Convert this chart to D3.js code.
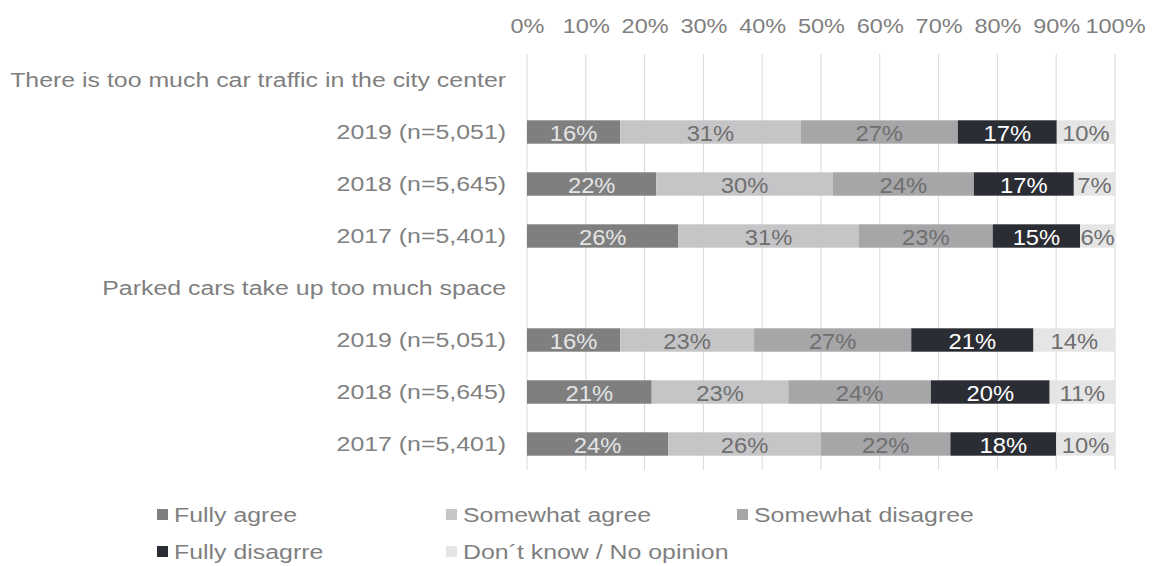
<!DOCTYPE html>
<html>
<head>
<meta charset="utf-8">
<script src="https://cdn.jsdelivr.net/npm/d3@7"></script>
<style>
	body { margin: 0; background: #fff; }
	svg { display: block; font-family: 'Liberation Sans', Arial, sans-serif; }
</style>
</head>
<body>
<svg id="chart" width="1154" height="566"></svg>
<script>
const questions = ['There is too much car traffic in the city center', 'Parked cars take up too much space'];
const years = ['2019 (n=5,051)', '2018 (n=5,645)', '2017 (n=5,401)'];
const responses = ['Fully agree', 'Somewhat agree', 'Somewhat disagree', 'Fully disagrre', 'Don\u00b4t know / No opinion'];

// one value per year row, question 1 rows first, then question 2
const fullyAgree = [16, 22, 26, 16, 21, 24];
const somewhatAgree = [31, 30, 31, 23, 23, 26];
const somewhatDisagree = [27, 24, 23, 27, 24, 22];
const fullyDisagree = [17, 17, 15, 21, 20, 18];
const dontKnow = [10, 7, 6, 14, 11, 10];

const tickValues = [0, 0.1, 0.2, 0.3, 0.4, 0.5, 0.6, 0.7, 0.8, 0.9, 1];
const tickLabels = ['0%', '10%', '20%', '30%', '40%', '50%', '60%', '70%', '80%', '90%', '100%'];

const colors = ['#7f7f80', '#c5c5c7', '#a6a6a8', '#2a2d33', '#e5e5e5'];
const labelColors = ['#e4e4e4', '#6f6f6f', '#6f6f6f', '#ffffff', '#6f6f6f'];

// the source text is drawn a bit wider than Arial
const wideText = 1.185;
const wideTick = 1.12;
const wideLabel = 1.08;

// build row list: question header, then its year rows
const rows = [];
let k = 0;
questions.forEach((q) => {
	rows.push({ label: q, header: true });
	years.forEach((y) => {
		rows.push({
			label: y,
			header: false,
			'Fully agree': fullyAgree[k],
			'Somewhat agree': somewhatAgree[k],
			'Somewhat disagree': somewhatDisagree[k],
			'Fully disagrre': fullyDisagree[k],
			'Don\u00b4t know / No opinion': dontKnow[k]
		});
		k += 1;
	});
});

const svg = d3.select('#chart');
const x = d3.scaleLinear().domain([0, 1]).range([527, 1115]);
const y = d3.scaleBand().domain(d3.range(rows.length)).range([54, 470]).paddingInner(0.55).paddingOuter(0.275);

// gridlines
svg.append('g')
	.selectAll('line')
	.data(tickValues)
	.join('line')
	.attr('x1', (d) => x(d))
	.attr('x2', (d) => x(d))
	.attr('y1', 54)
	.attr('y2', 470)
	.attr('stroke', '#d9d9d9')
	.attr('stroke-width', 1);

// top axis labels
const xAxis = svg.append('g')
	.attr('transform', 'translate(0,54)')
	.call(d3.axisTop(x).tickValues(tickValues).tickFormat((d, i) => tickLabels[i]).tickSize(0));
xAxis.select('.domain').remove();
xAxis.selectAll('text')
	.attr('y', 0)
	.attr('transform', `translate(0,-21) scale(${wideTick},1)`)
	.attr('fill', '#7f7f7f')
	.style('font-size', '21px')
	.style('font-family', "'Liberation Sans', Arial, sans-serif");

// left category labels
const yAxis = svg.append('g')
	.attr('transform', 'translate(527,0)')
	.call(d3.axisLeft(y).tickFormat((d) => rows[d].label).tickSize(0));
yAxis.select('.domain').remove();
yAxis.selectAll('text')
	.attr('x', 0)
	.attr('transform', `translate(-21,0) scale(${wideText},1)`)
	.attr('fill', '#7f7f7f')
	.style('font-size', '21px')
	.style('font-family', "'Liberation Sans', Arial, sans-serif");

const dataRows = rows.map((r, i) => Object.assign({ index: i }, r)).filter((r) => !r.header);
const series = d3.stack().keys(responses).offset(d3.stackOffsetExpand)(dataRows);

const layers = svg.append('g')
	.selectAll('g')
	.data(series)
	.join('g');

layers.selectAll('rect')
	.data((s) => s.map((d) => ({ d: d, key: s.key, i: s.index })))
	.join('rect')
	.attr('x', (p) => x(p.d[0]))
	.attr('y', (p) => y(p.d.data.index))
	.attr('width', (p) => x(p.d[1]) - x(p.d[0]))
	.attr('height', y.bandwidth())
	.attr('fill', (p) => colors[p.i]);

layers.selectAll('text')
	.data((s) => s.map((d) => ({ d: d, key: s.key, i: s.index })))
	.join('text')
	.attr('transform', (p) => `translate(${(x(p.d[0]) + x(p.d[1])) / 2},${y(p.d.data.index) + y.bandwidth() / 2 + 9}) scale(${wideLabel},1)`)
	.attr('text-anchor', 'middle')
	.attr('fill', (p) => labelColors[p.i])
	.style('font-size', '22px')
	.text((p) => p.d.data[p.key] + '%');

// legend
const legendCols = [157, 446, 737];
const legendRows = [515, 552];
const legend = svg.append('g')
	.selectAll('g')
	.data(responses)
	.join('g')
	.attr('transform', (d, i) => `translate(${legendCols[i % 3]},${legendRows[Math.floor(i / 3)]})`);

legend.append('rect')
	.attr('x', 0)
	.attr('y', -6)
	.attr('width', 11)
	.attr('height', 11)
	.attr('fill', (d, i) => colors[i]);

legend.append('text')
	.attr('transform', `translate(17,7) scale(${wideText},1)`)
	.attr('fill', '#7f7f7f')
	.style('font-size', '21px')
	.text((d) => d);
</script>
</body>
</html>
